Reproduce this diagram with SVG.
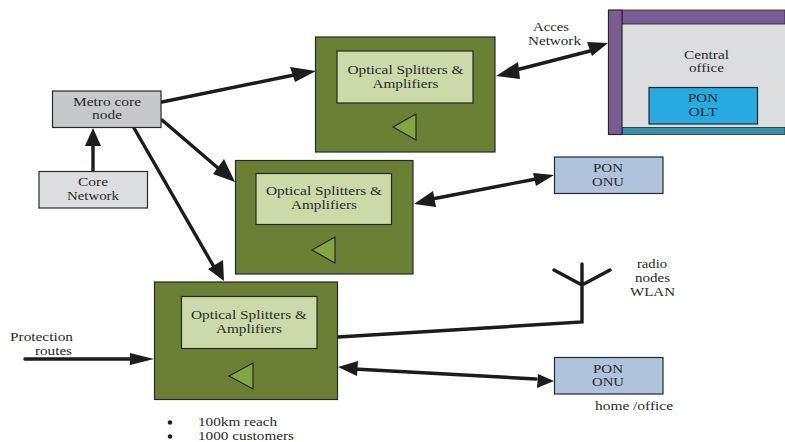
<svg xmlns="http://www.w3.org/2000/svg" width="785" height="442" viewBox="0 0 785 442">
<style>
text{font-family:"Liberation Serif","Times New Roman",serif;font-size:12.5px;fill:#2a2a2a;text-anchor:middle}
.b{stroke:#26282a;stroke-width:1.2}
.g{fill:#6a8035}
.l{fill:#cbdaa8}
.t{fill:#84a544}
.c{fill:none;stroke:#1d1b1c;stroke-width:3.4;stroke-linecap:round}
.h{fill:#1d1b1c}
</style>
<rect width="785" height="442" fill="#fff"/>
<g id="connectors">
<path class="c" d="M162 102L294 75"/><path class="h" d="M316 71L295 82L290 67Z"/>
<path class="c" d="M162 120L218 168"/><path class="h" d="M235 182L213 174L224 159Z"/>
<path class="c" d="M134 128L214 267"/><path class="h" d="M224 281L208 269L223 260Z"/>
<path class="c" d="M93 171V145"/><path class="h" d="M93 128L101 146H85Z"/>
<path class="c" d="M516 70L590 51"/><path class="h" d="M496 76L518 62L520 79Z"/><path class="h" d="M608 43L592 56L587 42Z"/>
<path class="c" d="M432 199L536 179"/><path class="h" d="M414 204L433 191L436 207Z"/><path class="h" d="M554 175L536 186L533 173Z"/>
<path class="c" d="M354 369L536 379"/><path class="h" d="M338 367L358 361L357 376Z"/><path class="h" d="M554 381L537 388L538 374Z"/>
<path class="c" d="M25 359H132"/><path class="h" d="M154 359L130 365V353Z"/>
<path class="c" d="M338 337L582 322V264M582 285L554 270M582 285L610 270"/>
</g>
<g id="metro-core-node"><rect class="b" x="52.500" y="91" width="108.500" height="36.500" fill="#c7c8ca"/><text x="107" y="106" textLength="68" lengthAdjust="spacingAndGlyphs">Metro core</text><text x="107" y="119" textLength="30" lengthAdjust="spacingAndGlyphs">node</text></g>
<g id="core-network"><rect class="b" x="39" y="171.500" width="108.500" height="36.500" fill="#dcddde"/><text x="93" y="186" textLength="30" lengthAdjust="spacingAndGlyphs">Core</text><text x="93" y="200" textLength="52" lengthAdjust="spacingAndGlyphs">Network</text></g>
<g id="splitter-top"><rect class="b g" x="315.500" y="37" width="179.500" height="115"/><rect class="b l" x="337" y="51" width="136" height="52"/><text x="405.500" y="74" textLength="116" lengthAdjust="spacingAndGlyphs">Optical Splitters &amp;</text><text x="405.500" y="88" textLength="66" lengthAdjust="spacingAndGlyphs">Amplifiers</text><path class="b t" d="M393 127L416 114V140Z"/></g>
<g id="splitter-middle"><rect class="b g" x="235.500" y="160.500" width="177.500" height="113.500"/><rect class="b l" x="256" y="173.500" width="135.500" height="51"/><text x="324" y="195" textLength="116" lengthAdjust="spacingAndGlyphs">Optical Splitters &amp;</text><text x="324" y="209" textLength="66" lengthAdjust="spacingAndGlyphs">Amplifiers</text><path class="b t" d="M312 250L335 237V263Z"/></g>
<g id="splitter-bottom"><rect class="b g" x="154.500" y="282" width="183" height="117.500"/><rect class="b l" x="181.500" y="296.500" width="135.500" height="52"/><text x="249" y="319" textLength="116" lengthAdjust="spacingAndGlyphs">Optical Splitters &amp;</text><text x="249" y="333" textLength="66" lengthAdjust="spacingAndGlyphs">Amplifiers</text><path class="b t" d="M229 376L253 363V389Z"/></g>
<g id="central-office">
<rect x="608.500" y="10" width="176.500" height="124.500" fill="#dcddde"/>
<rect x="622" y="10" width="163" height="14" fill="#7a5b94" stroke="#26282a" stroke-width=".8"/>
<rect x="622" y="127.500" width="163" height="7" fill="#3791a8" stroke="#26282a" stroke-width=".8"/>
<rect class="b" x="608.500" y="10" width="13.500" height="124.500" fill="#7a5b94"/>
<rect class="b" x="649" y="87.500" width="108.500" height="36.500" fill="#27aae1"/>
<text x="706.500" y="59" textLength="45" lengthAdjust="spacingAndGlyphs">Central</text><text x="706.500" y="72" textLength="35" lengthAdjust="spacingAndGlyphs">office</text>
<text x="703" y="102" textLength="30" lengthAdjust="spacingAndGlyphs">PON</text><text x="703" y="116" textLength="29" lengthAdjust="spacingAndGlyphs">OLT</text>
</g>
<g id="pon-onu-top"><rect class="b" x="554.500" y="157" width="108.500" height="36.500" fill="#afc3dd"/><text x="608" y="172" textLength="30" lengthAdjust="spacingAndGlyphs">PON</text><text x="608" y="186" textLength="32" lengthAdjust="spacingAndGlyphs">ONU</text></g>
<g id="pon-onu-bottom"><rect class="b" x="554.500" y="357.500" width="108.500" height="36.500" fill="#afc3dd"/><text x="608" y="373" textLength="30" lengthAdjust="spacingAndGlyphs">PON</text><text x="608" y="386" textLength="32" lengthAdjust="spacingAndGlyphs">ONU</text></g>
<g id="labels">
<text x="551" y="31" textLength="36" lengthAdjust="spacingAndGlyphs">Acces</text><text x="554.500" y="45" textLength="53" lengthAdjust="spacingAndGlyphs">Network</text>
<text x="652" y="268" textLength="30" lengthAdjust="spacingAndGlyphs">radio</text><text x="652.500" y="282" textLength="35" lengthAdjust="spacingAndGlyphs">nodes</text><text x="652.500" y="296" textLength="45" lengthAdjust="spacingAndGlyphs">WLAN</text>
<text x="634" y="410" textLength="78" lengthAdjust="spacingAndGlyphs">home /office</text>
<text x="41.500" y="341" textLength="63" lengthAdjust="spacingAndGlyphs">Protection</text><text x="53.500" y="355" textLength="37" lengthAdjust="spacingAndGlyphs">routes</text>
<circle cx="170" cy="422.500" r="2.200" fill="#1d1b1c"/><circle cx="170" cy="436.500" r="2.200" fill="#1d1b1c"/>
<text x="198" y="426" style="text-anchor:start" textLength="79" lengthAdjust="spacingAndGlyphs">100km reach</text><text x="198" y="440" style="text-anchor:start" textLength="96" lengthAdjust="spacingAndGlyphs">1000 customers</text>
</g>
</svg>
